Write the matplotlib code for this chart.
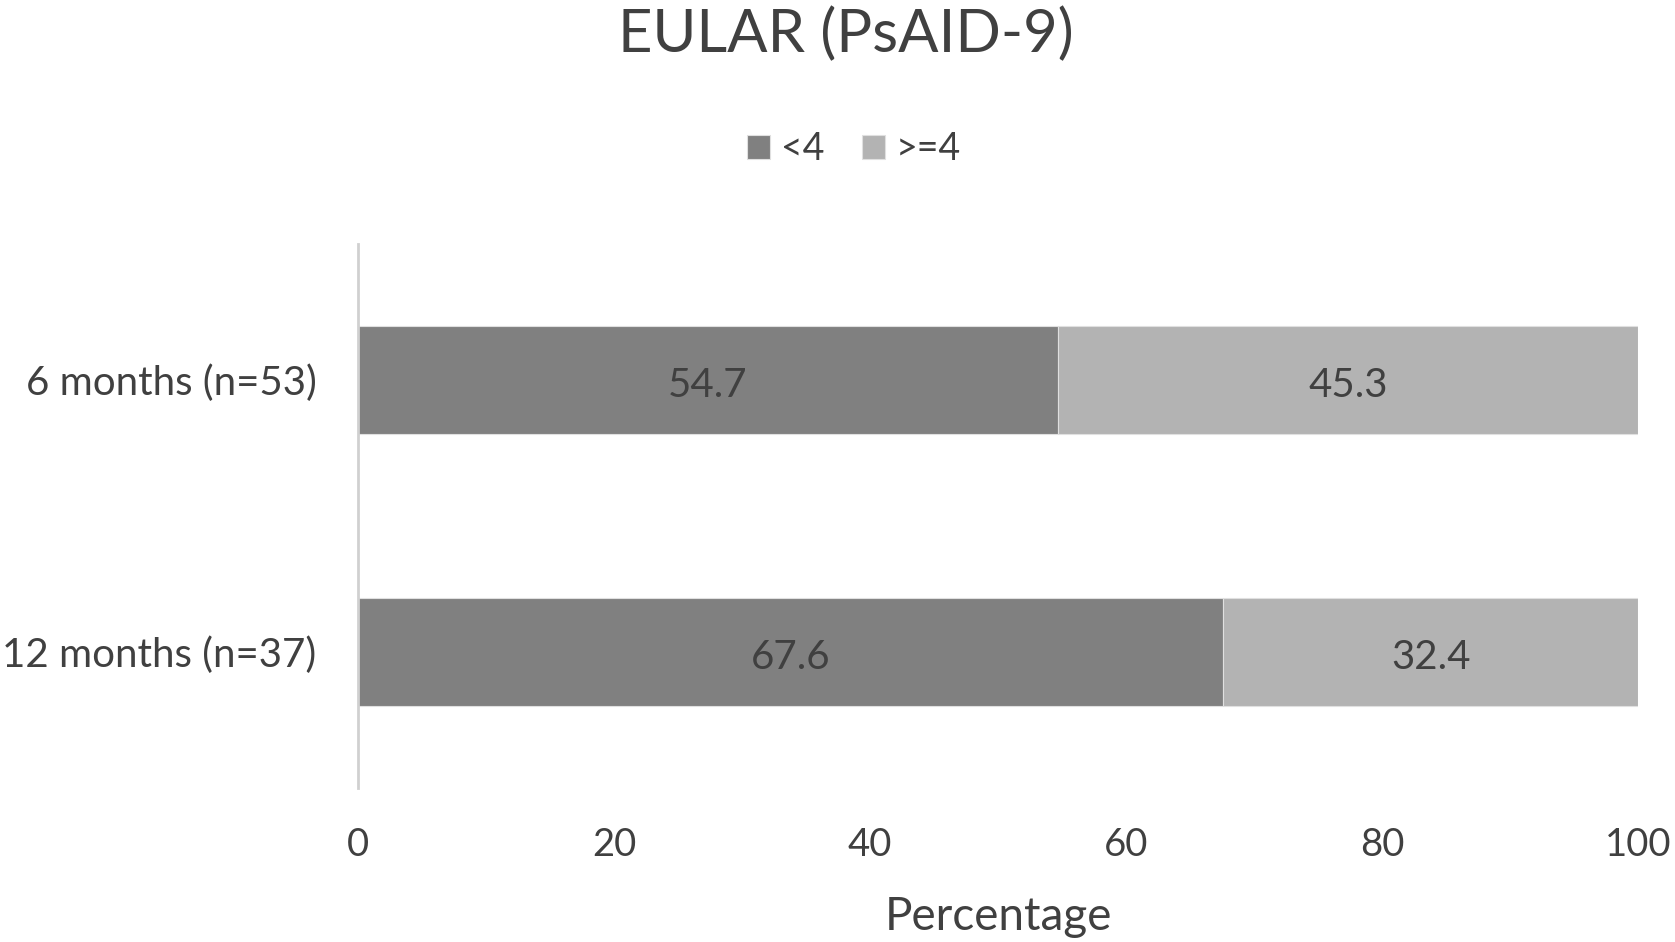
import matplotlib.pyplot as plt
import numpy as np

plt.rcParams['font.family'] = ['Lato', 'DejaVu Sans']

# data
categories = ["12 months (n=37)", "6 months (n=53)"]
below4 = [67.6, 54.7]
above4 = [32.4, 45.3]
series_names = ["<4", ">=4"]
xticks = [0, 20, 40, 60, 80, 100]

fig = plt.figure(figsize=(16.75, 9.42), dpi=100)
ax = fig.add_axes([0.2137, 0.1635, 0.7643, 0.5775])

y = np.arange(len(categories))
b1 = ax.barh(y, below4, height=0.4, color='#808080', edgecolor='#e0e0e0', linewidth=0.8, label=series_names[0])
b2 = ax.barh(y, above4, left=below4, height=0.4, color='#b3b3b3', edgecolor='#e0e0e0', linewidth=0.8, label=series_names[1])

# value labels in the middle of each segment
for bars in (b1, b2):
    for r in bars:
        ax.text(r.get_x() + r.get_width() / 2, r.get_y() + r.get_height() / 2 - 0.02,
                f"{r.get_width():.1f}", ha='center', va='center', fontsize=29, color='#404040')

ax.set_xlim(0, 100)
ax.set_ylim(-0.5, 1.5)
ax.set_yticks(y)
ax.set_yticklabels(categories)
ax.set_xticks(xticks)
ax.tick_params(axis='x', length=0, labelsize=27.5, colors='#404040', pad=28)
ax.tick_params(axis='y', length=0, labelsize=29, colors='#404040', pad=30)
for s in ['top', 'right', 'bottom']:
    ax.spines[s].set_visible(False)
ax.spines['left'].set_color('#d0d0d0')
ax.spines['left'].set_linewidth(2)

ax.set_xlabel("Percentage", fontsize=33, color='#404040', labelpad=24)
fig.text(0.505, 0.963, "EULAR (PsAID-9)", ha='center', va='center', fontsize=43, color='#404040')
fig.legend(loc='center', bbox_to_anchor=(0.51, 0.842), ncol=2, frameon=False, fontsize=27,
           handlelength=0.6, handleheight=0.6, handletextpad=0.3, columnspacing=1.0,
           labelcolor='#404040')

fig.savefig("out.png", dpi=100)
